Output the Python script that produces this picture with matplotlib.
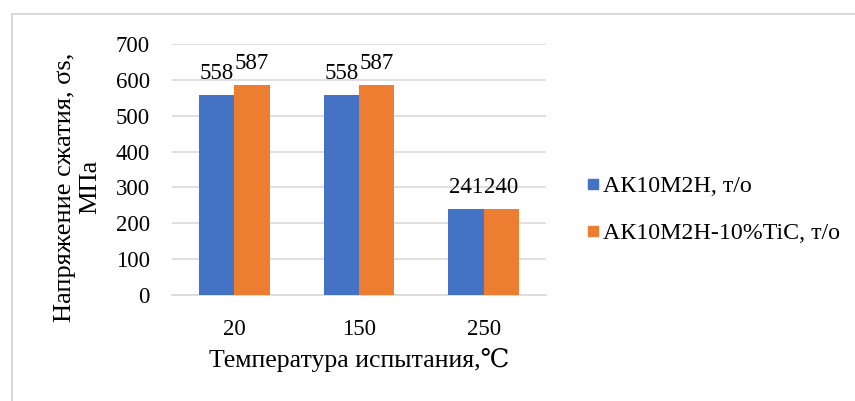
import matplotlib.pyplot as plt
import numpy as np
from matplotlib.lines import Line2D

plt.rcParams["font.family"] = ["Liberation Serif", "DejaVu Serif"]

categories = ["20", "150", "250"]
series_names = ["АК10М2Н, т/о", "АК10М2Н-10%TiC, т/о"]
base_vals = [558, 558, 241]
tic_vals = [587, 587, 240]
colors = ["#4472C4", "#ED7D31"]

W, H = 855, 401
fig = plt.figure(figsize=(W / 100, H / 100), dpi=100)

# plot area in pixel coordinates
left, right, top, bottom = 172, 546, 44, 295
ax = fig.add_axes([left / W, 1 - bottom / H, (right - left) / W, (bottom - top) / H])

x = np.arange(len(categories))
bw = 0.284
b1 = ax.bar(x - bw / 2, base_vals, bw, color=colors[0], zorder=3)
b2 = ax.bar(x + bw / 2, tic_vals, bw, color=colors[1], zorder=3)

for bars, vals in ((b1, base_vals), (b2, tic_vals)):
    for rect, v in zip(bars, vals):
        ax.text(rect.get_x() + rect.get_width() / 2, v + 30, str(v),
                ha="center", va="bottom", fontsize=16.5)

ax.set_xlim(-0.5, 2.5)
ax.set_ylim(0, 700)
ax.set_yticks(range(0, 701, 100))
ax.set_xticks(x, categories)
ax.tick_params(axis="both", length=0, labelsize=16.5)
ax.tick_params(axis="x", pad=17)
ax.tick_params(axis="y", pad=16)
ax.grid(axis="y", color="#D9D9D9", linewidth=1.2, zorder=0)
for s in ["top", "right", "left"]:
    ax.spines[s].set_visible(False)
ax.spines["bottom"].set_color("#D9D9D9")
ax.spines["bottom"].set_linewidth(1.2)

ax.set_ylabel("Напряжение сжатия, σs,\nМПа", fontsize=19, linespacing=1.15)
ax.yaxis.set_label_coords(-0.19, 0.43)
ax.set_xlabel("Температура испытания,℃", fontsize=18.5, labelpad=6)

handles = [Line2D([], [], marker="s", linestyle="none", markersize=7.5,
                  markerfacecolor=c, markeredgecolor=c) for c in colors]
fig.legend(handles, series_names, loc="center left",
           bbox_to_anchor=(560 / W, 1 - 210 / H), frameon=False,
           fontsize=17.2, handletextpad=-0.12, labelspacing=1.05, handlelength=1.0)

# chart frame (only top and left edges are visible in the crop)
fig.add_artist(Line2D([12 / W, 1], [1 - 14 / H, 1 - 14 / H], color="#D9D9D9", lw=1.5))
fig.add_artist(Line2D([12 / W, 12 / W], [1 - 14 / H, 0], color="#D9D9D9", lw=1.5))

fig.savefig("out.png", dpi=100)
